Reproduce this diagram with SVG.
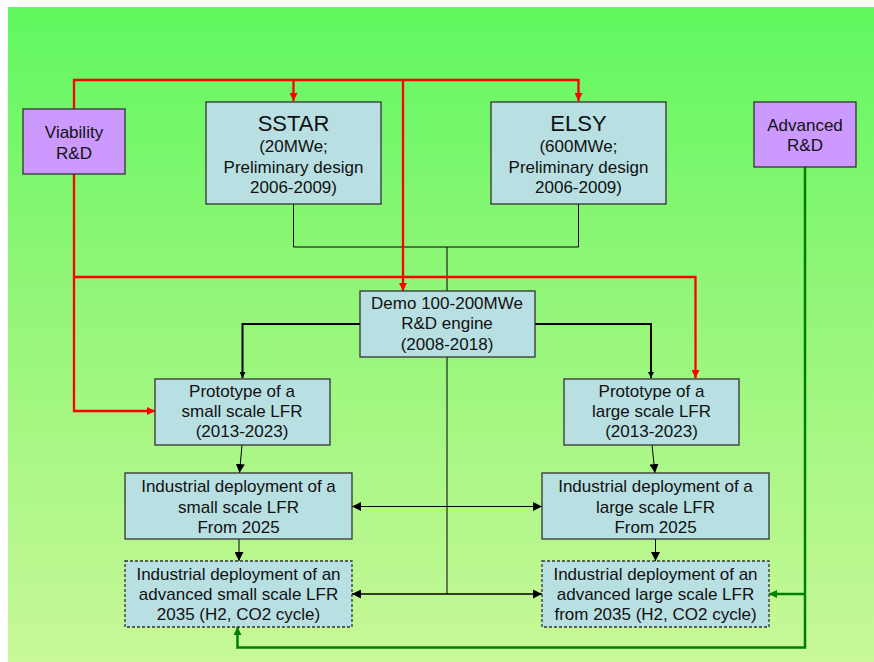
<svg xmlns="http://www.w3.org/2000/svg" width="874" height="662" viewBox="0 0 874 662">
<defs>
<linearGradient id="bg" x1="0" y1="0" x2="0" y2="1">
<stop offset="0" stop-color="#5ff85f"/>
<stop offset="0.4" stop-color="#8ef676"/>
<stop offset="1" stop-color="#c8f898"/>
</linearGradient>
<marker id="ab" viewBox="0 0 10 10" refX="10" refY="5" markerWidth="6" markerHeight="6" markerUnits="userSpaceOnUse" orient="auto"><path d="M0,0 L10,5 L0,10 z" fill="#000"/></marker>
<marker id="abl" viewBox="0 0 10 10" refX="10" refY="5" markerWidth="9" markerHeight="9" markerUnits="userSpaceOnUse" orient="auto-start-reverse"><path d="M0,0 L10,5 L0,10 z" fill="#000"/></marker>
<marker id="ar" viewBox="0 0 10 10" refX="10" refY="5" markerWidth="8" markerHeight="8" markerUnits="userSpaceOnUse" orient="auto"><path d="M0,0 L10,5 L0,10 z" fill="#ff0000"/></marker>
<marker id="ag" viewBox="0 0 10 10" refX="10" refY="5" markerWidth="8" markerHeight="8" markerUnits="userSpaceOnUse" orient="auto"><path d="M0,0 L10,5 L0,10 z" fill="#008000"/></marker>
</defs>
<style>
.n{fill:#b8dfe2;stroke:#333;stroke-width:1.3}
.d{fill:#b8dfe2;stroke:#333;stroke-width:1.3;stroke-dasharray:3,2}
.p{fill:#cc99ff;stroke:#333;stroke-width:1.3}
text{font-family:"Liberation Sans",Arial,sans-serif;font-size:17px;fill:#111;text-anchor:middle}
.big{font-size:22px}
.red{fill:none;stroke:#ff0000;stroke-width:2.3}
.grn{fill:none;stroke:#008000;stroke-width:2.5}
.blk{fill:none;stroke:#000;stroke-width:1}
.bk2{fill:none;stroke:#000;stroke-width:2}
</style>
<rect x="8" y="7" width="866" height="655" fill="url(#bg)"/>
<g id="connectors">
<path class="blk" d="M293.5,204 V247 H578.5 V204"/>
<path class="blk" d="M447,247 V291"/>
<path class="bk2" d="M360,324 H242.5 V378" marker-end="url(#ab)"/>
<path class="bk2" d="M535,324 H651 V378" marker-end="url(#ab)"/>
<path class="blk" d="M447,357 V594"/>
<path class="blk" d="M242,445 L239.5,473" marker-end="url(#abl)"/>
<path class="blk" d="M652,445 L655,473" marker-end="url(#abl)"/>
<path class="blk" d="M239,539 V561" marker-end="url(#abl)"/>
<path class="blk" d="M655.5,539 V561" marker-end="url(#abl)"/>
<path class="blk" d="M352,506.5 H542" marker-start="url(#abl)" marker-end="url(#abl)"/>
<path class="bk2" style="stroke-width:1.5" d="M352,594 H542" marker-start="url(#abl)" marker-end="url(#abl)"/>
<path class="red" d="M74,109 V80 H578.5 V101" marker-end="url(#ar)"/>
<path class="red" d="M293.5,80 V101" marker-end="url(#ar)"/>
<path class="red" d="M403,80 V291" marker-end="url(#ar)"/>
<path class="red" d="M74,174 V411 H155" marker-end="url(#ar)"/>
<path class="red" d="M74,277 H695.5 V378" marker-end="url(#ar)"/>
<path class="grn" d="M805,167 V647.5 H237.5 V627" marker-end="url(#ag)"/>
<path class="grn" d="M805,594 H769" marker-end="url(#ag)"/>
</g>
<g id="viability"><rect class="p" x="23" y="109" width="102" height="65"/><text x="74" y="138">Viability</text><text x="74" y="159">R&amp;D</text></g>
<g id="sstar"><rect class="n" x="206" y="102" width="175" height="102"/><text class="big" x="293.5" y="131">SSTAR</text><text x="293.5" y="152">(20MWe;</text><text x="293.5" y="173">Preliminary design</text><text x="293.5" y="193">2006-2009)</text></g>
<g id="elsy"><rect class="n" x="491" y="102" width="175" height="102"/><text class="big" x="578.5" y="131">ELSY</text><text x="578.5" y="152">(600MWe;</text><text x="578.5" y="173">Preliminary design</text><text x="578.5" y="193">2006-2009)</text></g>
<g id="advanced"><rect class="p" x="754" y="102" width="102" height="65"/><text x="805" y="131">Advanced</text><text x="805" y="151">R&amp;D</text></g>
<g id="demo"><rect class="n" x="360" y="291" width="175" height="66"/><text x="447" y="309">Demo 100-200MWe</text><text x="447" y="329">R&amp;D engine</text><text x="447" y="350">(2008-2018)</text></g>
<g id="proto-small"><rect class="n" x="155" y="379" width="175" height="66"/><text x="242" y="397">Prototype of a</text><text x="242" y="417">small scale LFR</text><text x="242" y="437">(2013-2023)</text></g>
<g id="proto-large"><rect class="n" x="564" y="379" width="175" height="66"/><text x="651.5" y="397">Prototype of a</text><text x="651.5" y="417">large scale LFR</text><text x="651.5" y="437">(2013-2023)</text></g>
<g id="ind-small"><rect class="n" x="125" y="473" width="227" height="66"/><text x="238.5" y="492">Industrial deployment of a</text><text x="238.5" y="513">small scale LFR</text><text x="238.5" y="533">From 2025</text></g>
<g id="ind-large"><rect class="n" x="542" y="473" width="227" height="66"/><text x="655.5" y="492">Industrial deployment of a</text><text x="655.5" y="513">large scale LFR</text><text x="655.5" y="533">From 2025</text></g>
<g id="adv-small"><rect class="d" x="125" y="561" width="227" height="66"/><text x="238.5" y="580">Industrial deployment of an</text><text x="238.5" y="600">advanced small scale LFR</text><text x="238.5" y="620">2035 (H2, CO2 cycle)</text></g>
<g id="adv-large"><rect class="d" x="542" y="561" width="227" height="66"/><text x="655.5" y="580">Industrial deployment of an</text><text x="655.5" y="600">advanced large scale LFR</text><text x="655.5" y="620">from 2035 (H2, CO2 cycle)</text></g>
</svg>
